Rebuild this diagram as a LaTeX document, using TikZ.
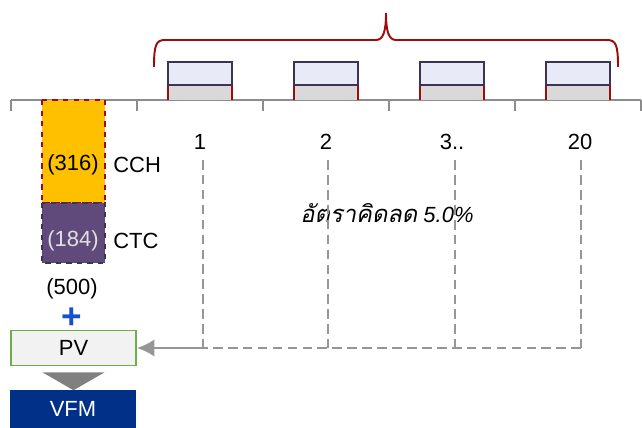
\documentclass[tikz,border=0pt]{standalone}
\usepackage{fontspec}
\setmainfont{Liberation Sans}
\newfontfamily\thaifont[Script=Thai,FakeSlant=0.2]{Loma}
\usetikzlibrary{arrows.meta,positioning,shapes.geometric}
\definecolor{axisgray}{RGB}{140,140,140}
\definecolor{dashgray}{RGB}{150,150,150}
\definecolor{bracered}{RGB}{160,10,10}
\definecolor{cchorange}{RGB}{255,192,0}
\definecolor{ctcpurple}{RGB}{96,74,123}
\definecolor{cashtop}{RGB}{232,234,248}
\definecolor{cashborder}{RGB}{60,52,80}
\definecolor{cashbot}{RGB}{217,217,217}
\definecolor{pvgreen}{RGB}{112,173,71}
\definecolor{pvfill}{RGB}{242,242,242}
\definecolor{vfmblue}{RGB}{0,48,135}
\definecolor{plusblue}{RGB}{20,80,210}

\begin{document}
\begin{tikzpicture}[x=0.02cm, y=-0.02cm,
        font=\fontsize{12.5}{14}\selectfont,
        axis/.style={draw=axisgray, line width=1.1pt},
        yearlbl/.style={inner sep=0pt, anchor=center},
        flow/.style={draw=dashgray, dash pattern=on 5.5pt off 3pt, line width=1.5pt},
        cashup/.style={draw=cashborder, fill=cashtop, line width=1.1pt},
        cashdown/.style={fill=cashbot},
        cashside/.style={draw=bracered, line width=1pt},
        boxlbl/.style={inner sep=0pt, anchor=center}
      ]
        \useasboundingbox (0,0) rectangle (642,428);
        % time axis
        \draw[axis] (11,100) -- (641,100);
        \foreach \x in {11,137,263,389,515,641}
          \draw[axis] (\x,100) -- (\x,111);
        % yearly cash flows
        \foreach \x in {168,294,420,546} {
          \fill[cashdown] (\x,85) rectangle (\x+64,100);
          \draw[cashside] (\x,85) -- (\x,100) (\x+64,85) -- (\x+64,100);
          \draw[cashup] (\x,62) rectangle (\x+64,85);
        }
        % brace
        \draw[bracered, line width=1.1pt] (154,67) .. controls (154,45) and (156,40) .. (165,40) -- (376,40)
          .. controls (383,40) and (386,32) .. (386,13) .. controls (386,32) and (389,40) .. (396,40)
          -- (607,40) .. controls (616,40) and (618,45) .. (618,67);
        % value bar
        \draw[fill=cchorange, draw=bracered, dashed, line width=0.8pt] (42,100) rectangle (105,203);
        \draw[fill=ctcpurple, draw=cashborder, dashed, line width=0.8pt] (42,203) rectangle (105,263);
        \node[boxlbl] (cchval) at (73,165) {(316)};
        \node[boxlbl, anchor=west] (cch) at (113,165) {CCH};
        \node[boxlbl, text=white!88!black] (ctcval) at (73,241) {(184)};
        \node[boxlbl, anchor=west] (ctc) at (113,241) {CTC};
        \node[boxlbl] (total) at (72,289) {(500)};
        \node[boxlbl, text=plusblue, font=\fontsize{20}{20}\selectfont\bfseries] (plus) at (72,318) {+};
        % PV and VFM
        \node[draw=pvgreen, fill=pvfill, line width=1pt, minimum width=125*0.02cm, minimum height=35*0.02cm,
              inner sep=0pt] (pv) at (73.5,348) {PV};
        \node[isosceles triangle, shape border rotate=-90, isosceles triangle apex angle=120, fill=gray,
              minimum width=62*0.02cm, minimum height=16*0.02cm, inner sep=0pt, anchor=north] (down) at (73.5,372) {};
        \node[fill=vfmblue, text=white, minimum width=126*0.02cm, minimum height=38*0.02cm,
              inner sep=0pt, anchor=north] (vfm) at (73,390) {VFM};
        % year labels
        \node[yearlbl] (y1) at (200,142) {1};
        \node[yearlbl] (y2) at (326,142) {2};
        \node[yearlbl] (y3) at (452,142) {3..};
        \node[yearlbl] (y20) at (580,142) {20};
        \node[yearlbl] (rate) at (387,213) {{\thaifont\fontsize{13.5}{15}\selectfont อัตราคิดลด} \textit{5.0\%}};
        % discounting lines
        \coordinate (d1) at (203,348);
        \coordinate (d2) at (328,348);
        \coordinate (d3) at (455,348);
        \coordinate (d20) at (581,348);
        \draw[flow] (y1.south -| d1) ++(0,10) -- (d1);
        \draw[flow] (y2.south -| d2) ++(0,10) -- (d2);
        \draw[flow] (y3.south -| d3) ++(0,10) -- (d3);
        \draw[flow] (y20.south -| d20) ++(0,10) -- (d20);
        \draw[flow] (d20) -- (d1);
        \draw[draw=dashgray, line width=1.5pt, -{Latex[length=3.5mm, width=3.5mm]}] (d1) -- (pv.east);
      \end{tikzpicture}
\end{document}
